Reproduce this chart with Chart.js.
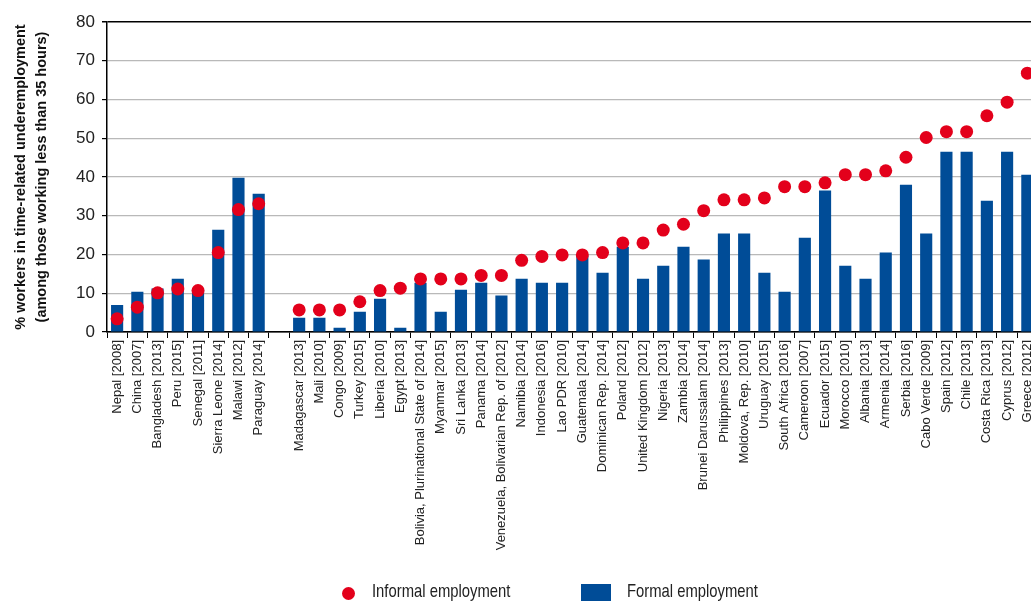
<!DOCTYPE html>
<html>
<head>
<meta charset="utf-8">
<script src="https://cdn.jsdelivr.net/npm/chart.js@4.4.1/dist/chart.umd.min.js"></script>
<style>
  html, body { margin: 0; padding: 0; background: #fff; overflow: hidden; width: 1031px; height: 601px; }
  #wrap { position: relative; width: 1045px; height: 601px; }
  #legend { position: absolute; left: 0; top: 0; width: 1031px; height: 601px; pointer-events: none; }
  .lg-dot { position: absolute; left: 342px; top: 587px; width: 13px; height: 13px; border-radius: 50%; }
  .lg-box { position: absolute; left: 581px; top: 584px; width: 30px; height: 20px; }
  .lg-text { position: absolute; top: 580px; font-size: 19px; line-height: 22px; color: #222; white-space: nowrap;
             transform: scaleX(0.78); transform-origin: 0 0; }
</style>
</head>
<body>
<div id="wrap">
  <canvas id="chart" width="1045" height="601"></canvas>
  <div id="legend"></div>
</div>
<script>
// Data
const countries = [
  'Nepal [2008]', 'China [2007]', 'Bangladesh [2013]', 'Peru [2015]', 'Senegal [2011]',
  'Sierra Leone [2014]', 'Malawi [2012]', 'Paraguay [2014]', '',
  'Madagascar [2013]', 'Mali [2010]', 'Congo [2009]', 'Turkey [2015]', 'Liberia [2010]',
  'Egypt [2013]', 'Bolivia, Plurinational State of [2014]', 'Myanmar [2015]', 'Sri Lanka [2013]',
  'Panama [2014]', 'Venezuela, Bolivarian Rep. of [2012]', 'Namibia [2014]', 'Indonesia [2016]',
  'Lao PDR [2010]', 'Guatemala [2014]', 'Dominican Rep. [2014]', 'Poland [2012]',
  'United Kingdom [2012]', 'Nigeria [2013]', 'Zambia [2014]', 'Brunei Darussalam [2014]',
  'Philippines [2013]', 'Moldova, Rep. [2010]', 'Uruguay [2015]', 'South Africa [2016]',
  'Cameroon [2007]', 'Ecuador [2015]', 'Morocco [2010]', 'Albania [2013]', 'Armenia [2014]',
  'Serbia [2016]', 'Cabo Verde [2009]', 'Spain [2012]', 'Chile [2013]', 'Costa Rica [2013]',
  'Cyprus [2012]', 'Greece [2012]'
];
const formal = [
  7.0, 10.4, 11.2, 13.75, 11.2, 26.4, 39.8, 35.7, null,
  3.7, 3.7, 1.1, 5.2, 8.6, 1.1, 12.7, 5.2, 10.9, 12.7,
  9.4, 13.75, 12.7, 12.7, 19.7, 15.3, 22.0, 13.75, 17.1, 22.0,
  18.7, 25.4, 25.4, 15.3, 10.4, 24.3, 36.5, 17.1, 13.75, 20.5,
  38.0, 25.4, 46.5, 46.5, 33.9, 46.5, 40.6
];
const informal = [
  3.4, 6.4, 10.1, 11.1, 10.7, 20.5, 31.6, 33.1, null,
  5.7, 5.7, 5.7, 7.8, 10.7, 11.3, 13.7, 13.7, 13.7, 14.6,
  14.6, 18.5, 19.5, 19.9, 19.9, 20.5, 23.0, 23.0, 26.3, 27.8,
  31.3, 34.1, 34.1, 34.6, 37.5, 37.5, 38.5, 40.6, 40.6, 41.6,
  45.1, 50.2, 51.7, 51.7, 55.8, 59.3, 66.8
];
const yTitle = ['% workers in time-related underemployment', '(among those working less than 35 hours)'];

const BLUE = '#004c97';
const RED = '#e3001b';
const FONT = "'Liberation Sans', Arial, sans-serif";

const ctx = document.getElementById('chart').getContext('2d');
const chart = new Chart(ctx, {
  type: 'bar',
  data: {
    labels: countries,
    datasets: [
      {
        type: 'line',
        label: 'Informal employment',
        data: informal,
        showLine: false,
        pointRadius: 6.5,
        pointHoverRadius: 6.5,
        pointBackgroundColor: RED,
        pointBorderWidth: 0,
        backgroundColor: RED,
        borderColor: RED,
        order: 0
      },
      {
        label: 'Formal employment',
        data: formal,
        backgroundColor: BLUE,
        barPercentage: 0.6,
        categoryPercentage: 1,
        order: 1
      }
    ]
  },
  options: {
    responsive: false,
    animation: false,
    layout: { padding: { top: 22, right: 4, left: 0, bottom: 0 } },
    plugins: {
      legend: { display: false },
      tooltip: { enabled: false }
    },
    scales: {
      x: {
        offset: true,
        grid: { drawOnChartArea: false, drawTicks: true, tickLength: 6, tickColor: '#000', offset: true },
        border: { color: '#000', width: 1.5 },
        ticks: {
          autoSkip: false, maxRotation: 90, minRotation: 90, padding: 2,
          color: '#222', font: { family: FONT, size: 13 }
        },
        afterFit: s => { s.height = 269; }
      },
      y: {
        min: 0, max: 80,
        grid: {
          color: c => (c.tick.value === 80 || c.tick.value === 0) ? '#000' : '#b9b9b9',
          lineWidth: c => c.tick.value === 80 ? 1.5 : 1.2,
          tickColor: '#000', tickLength: 5
        },
        border: { color: '#000', width: 1.5 },
        ticks: { stepSize: 10, padding: 7, color: '#222', font: { family: FONT, size: 17 } },
        title: {
          display: true, text: yTitle, color: '#111', padding: { top: 10.5, bottom: 0 },
          font: { family: FONT, size: 14.5, weight: 'bold', lineHeight: 1.45 }
        },
        afterFit: s => { s.width = 107; }
      }
    }
  }
});

// Legend drawn below the chart from the dataset styles
const legend = document.getElementById('legend');
const ds = chart.data.datasets;
legend.innerHTML = `
  <div class="lg-dot" style="background:${ds[0].backgroundColor}"></div>
  <div class="lg-text" style="left:372px; font-family:${FONT}">${ds[0].label}</div>
  <div class="lg-box" style="background:${ds[1].backgroundColor}"></div>
  <div class="lg-text" style="left:627px; font-family:${FONT}">${ds[1].label}</div>
`;
</script>
</body>
</html>
